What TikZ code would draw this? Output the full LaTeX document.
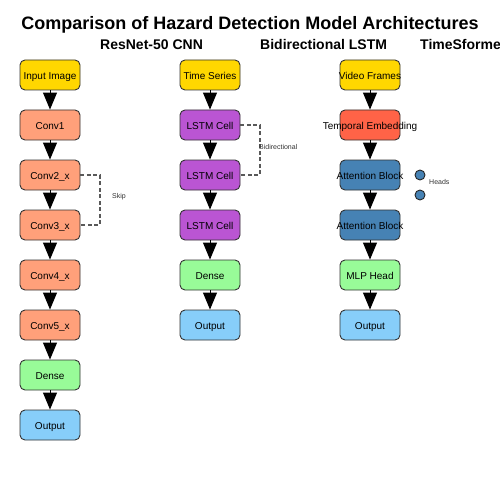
\documentclass[tikz,border=0pt]{standalone}
\usepackage{fontspec}
\setmainfont{Liberation Sans}
\usetikzlibrary{arrows.meta}
\newcommand\cbx[1]{\makebox[0pt][c]{#1}}
\definecolor{cgold}{HTML}{FFD700}
\definecolor{csalmon}{HTML}{FFA07A}
\definecolor{corchid}{HTML}{BA55D3}
\definecolor{cgreen}{HTML}{98FB98}
\definecolor{csky}{HTML}{87CEFA}
\definecolor{ctomato}{HTML}{FF6347}
\definecolor{csteel}{HTML}{4682B4}
\begin{document}
\begin{tikzpicture}[x=1pt,y=-1pt,
  blk/.style={draw=black!80,line width=0.9pt,rounded corners=5pt,minimum width=60pt,minimum height=30pt,inner sep=0pt,text height=9.5pt,text depth=0pt,font=\fontsize{10}{12}\selectfont},
  flow/.style={line width=1pt,-{Triangle[length=17pt,width=14pt]}},
  skipline/.style={draw=black!65,dashed,dash pattern=on 4pt off 2.5pt,line width=1.3pt},
  note/.style={font=\fontsize{7}{8}\selectfont,text=black!80,inner sep=0pt,anchor=west},
  sub/.style={font=\fontsize{14}{16}\selectfont\bfseries,inner sep=0pt,anchor=base west},
  headdot/.style={circle,draw=black!85,line width=0.9pt,fill=csteel,minimum size=10pt,inner sep=0pt}]
\useasboundingbox (0,0) rectangle (500,500);
\fill[white] (0,0) rectangle (500,500);
\clip (0,0) rectangle (500,500);
\node[font=\fontsize{18}{22}\selectfont\bfseries,inner sep=0pt,anchor=base] (title) at (250,30) {Comparison of Hazard Detection Model Architectures};
\node[sub] (t1) at (100,50) {ResNet-50 CNN};
\node[sub] (t2) at (260,50) {Bidirectional LSTM};
\node[sub] (t3) at (420,50) {TimeSformer};
% ResNet
\node[blk,fill=cgold] (a1) at (50,75) {\cbx{Input Image}};
\node[blk,fill=csalmon] (a2) at (50,125) {\cbx{Conv1}};
\node[blk,fill=csalmon] (a3) at (50,175) {\cbx{Conv2\_x}};
\node[blk,fill=csalmon] (a4) at (50,225) {\cbx{Conv3\_x}};
\node[blk,fill=csalmon] (a5) at (50,275) {\cbx{Conv4\_x}};
\node[blk,fill=csalmon] (a6) at (50,325) {\cbx{Conv5\_x}};
\node[blk,fill=cgreen] (a7) at (50,375) {\cbx{Dense}};
\node[blk,fill=csky] (a8) at (50,425) {\cbx{Output}};
\foreach \i/\j in {a1/a2,a2/a3,a3/a4,a4/a5,a5/a6,a6/a7,a7/a8} \draw[flow] (\i) -- (\j);
\coordinate (s1) at (100,175);
\coordinate (s2) at (100,225);
\draw[skipline] (a3.east) -- (s1) -- (s2) -- (a4.east);
\node[note] (skip) at (112,197) {Skip};
% LSTM
\node[blk,fill=cgold] (b1) at (210,75) {\cbx{Time Series}};
\node[blk,fill=corchid] (b2) at (210,125) {\cbx{LSTM Cell}};
\node[blk,fill=corchid] (b3) at (210,175) {\cbx{LSTM Cell}};
\node[blk,fill=corchid] (b4) at (210,225) {\cbx{LSTM Cell}};
\node[blk,fill=cgreen] (b5) at (210,275) {\cbx{Dense}};
\node[blk,fill=csky] (b6) at (210,325) {\cbx{Output}};
\foreach \i/\j in {b1/b2,b2/b3,b3/b4,b4/b5,b5/b6} \draw[flow] (\i) -- (\j);
\coordinate (l1) at (260,125);
\coordinate (l2) at (260,175);
\draw[skipline] (b2.east) -- (l1) -- (l2) -- (b3.east);
\node[note] (bidi) at (259,147) {Bidirectional};
% TimeSformer
\node[blk,fill=cgold] (c1) at (370,75) {\cbx{Video Frames}};
\node[blk,fill=ctomato] (c2) at (370,125) {\cbx{Temporal Embedding}};
\node[blk,fill=csteel] (c3) at (370,175) {\cbx{Attention Block}};
\node[blk,fill=csteel] (c4) at (370,225) {\cbx{Attention Block}};
\node[blk,fill=cgreen] (c5) at (370,275) {\cbx{MLP Head}};
\node[blk,fill=csky] (c6) at (370,325) {\cbx{Output}};
\foreach \i/\j in {c1/c2,c2/c3,c3/c4,c4/c5,c5/c6} \draw[flow] (\i) -- (\j);
\node[headdot] (h1) at (420,175) {};
\node[headdot] (h2) at (420,195) {};
\node[note] (heads) at (429,182) {Heads};
\end{tikzpicture}
\end{document}
